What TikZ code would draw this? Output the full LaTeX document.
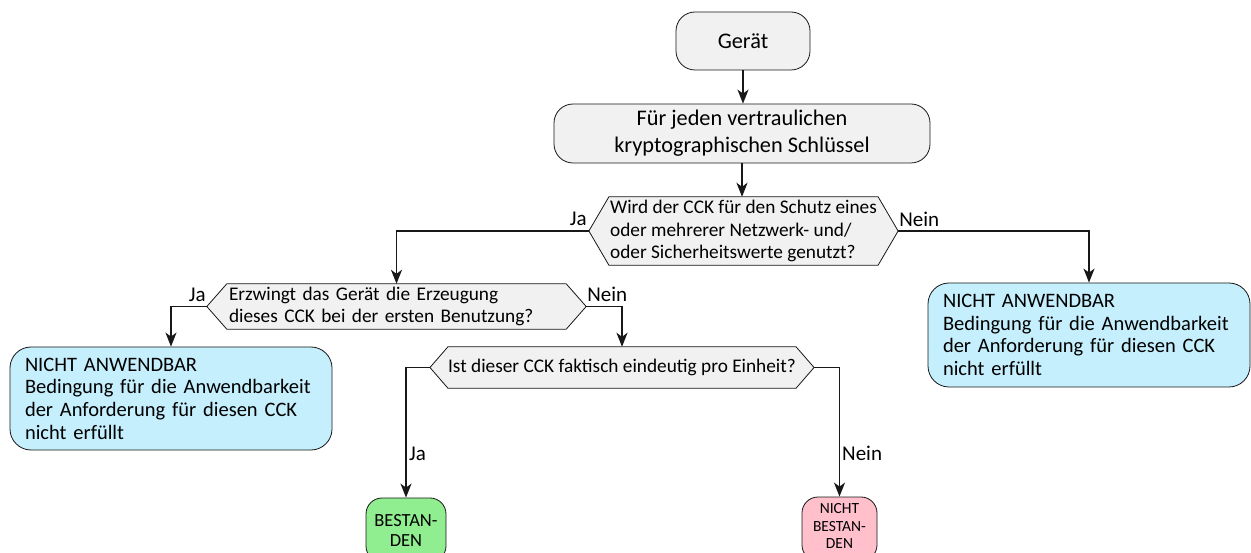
\documentclass[tikz,border=0pt]{standalone}
\usepackage{fontspec}
\setmainfont{Carlito}
\usetikzlibrary{arrows.meta,calc,backgrounds}
\definecolor{boxgray}{RGB}{241,241,241}
\definecolor{edgegray}{RGB}{24,24,24}
\definecolor{nablue}{RGB}{197,239,253}
\definecolor{passgreen}{RGB}{144,238,144}
\definecolor{failpink}{RGB}{255,192,203}
\begin{document}
\begin{tikzpicture}[x=1pt,y={(0pt,-1pt)},
  actbox/.style={draw=edgegray,line width=0.8pt,fill=boxgray,rounded corners=19pt,
    align=center,inner sep=0pt,font=\fontsize{22.3}{27}\selectfont},
  hexbox/.style={inner xsep=1pt,inner ysep=0pt,align=left,
    font=\fontsize{19.3}{22.3}\selectfont},
  hexline/.style={draw=edgegray,line width=0.8pt,fill=boxgray},
  nabox/.style={draw=edgegray,line width=0.8pt,fill=nablue,rounded corners=21pt,
    text width=292pt,inner xsep=15pt,inner ysep=0pt,minimum width=322pt,
    align=left,font=\fontsize{20.5}{22.7}\selectfont},
  endbox/.style={draw=edgegray,line width=0.8pt,rounded corners=16pt,
    inner sep=0pt,align=center,minimum height=64pt},
  flow/.style={draw=edgegray,line width=1.5pt,
    -{Stealth[length=14pt,width=11pt,inset=4pt]}},
  lbl/.style={inner sep=0pt,font=\fontsize{21}{23}\selectfont}]

\useasboundingbox (0,0) rectangle (1251,553);
\begin{scope}[on background layer]
  \fill[white] (0,0) rectangle (1251,553);
\end{scope}
\clip (0,0) rectangle (1251,553);

% activity boxes
\node[actbox,minimum width=134pt,minimum height=58pt] (dev) at (743,41) {Gerät};
\node[actbox,minimum width=376pt,minimum height=59pt] (each) at (742,133.5)
  {Für jeden vertraulichen\\kryptographischen Schlüssel};

% decision texts (hexagon outlines are drawn behind them below)
\node[hexbox,minimum height=68pt] (q1) at (743.5,231)
  {Wird der CCK für den Schutz eines\\oder mehrerer Netzwerk- und/\\oder Sicherheitswerte genutzt?};
\node[hexbox,inner xsep=2pt,text width=335pt,minimum height=45pt] (q2) at (396.5,306.5)
  {Erzwingt das Gerät die Erzeugung\\dieses CCK bei der ersten Benutzung?};
\node[hexbox,inner xsep=0pt,minimum height=41pt] (q3) at (622,367.5)
  {Ist dieser CCK faktisch eindeutig pro Einheit?};

\foreach \q/\d in {q1/20,q2/20,q3/18}{
  \coordinate (\q-w) at ($(\q.west)+(-\d,0)$);
  \coordinate (\q-e) at ($(\q.east)+(\d,0)$);
}
\begin{scope}[on background layer]
  \foreach \q in {q1,q2,q3}
    \path[hexline] (\q.north west) -- (\q.north east) -- (\q-e)
      -- (\q.south east) -- (\q.south west) -- (\q-w) -- cycle;
\end{scope}

% outcomes
\node[nabox,minimum height=103pt] (nal) at (171,398.5)
  {NICHT ANWENDBAR\\Bedingung für die Anwendbarkeit\\der Anforderung für diesen CCK\\nicht erfüllt};
\node[nabox,minimum height=104pt] (nar) at (1089,335)
  {NICHT ANWENDBAR\\Bedingung für die Anwendbarkeit\\der Anforderung für diesen CCK\\nicht erfüllt};
\node[endbox,fill=passgreen,minimum width=80pt,font=\fontsize{18.5}{20}\selectfont]
  (pass) at (406,530) {BESTAN-\\DEN};
\node[endbox,fill=failpink,minimum width=75pt,font=\fontsize{15.5}{17.2}\selectfont]
  (fail) at (839.5,529) {NICHT\\BESTAN-\\DEN\rule[-6pt]{0pt}{6pt}};

% connectors
\draw[flow] (dev.south) -- (dev.south |- each.north);
\draw[flow] (each.south) -- (each.south |- q1.north);
\draw[flow] (q1-w) -| (q2.north);
\draw[flow] (q1-e) -| (nar.north);
\draw[flow] (q2-w) -| (nal.north);
\draw[flow] (q2-e) -| (q3.north);
\draw[flow] (q3-w) -| (pass.north);
\draw[flow] (q3-e) -| (fail.north);

% branch labels
\node[lbl,anchor=base east] (ja1) at ($(q1-w)+(-2,-5)$) {Ja};
\node[lbl,anchor=base west] (nein1) at ($(q1-e)+(1,-4)$) {Nein};
\node[lbl,anchor=base east] (ja2) at ($(q2-w)+(-1,-5)$) {Ja};
\node[lbl,anchor=base west] (nein2) at ($(q2-e)+(1,-5)$) {Nein};
\node[lbl,anchor=base west] (ja3) at ($(pass.north)+(3,-37)$) {Ja};
\node[lbl,anchor=base west] (nein3) at ($(fail.north)+(2.5,-36)$) {Nein};
\end{tikzpicture}
\end{document}
